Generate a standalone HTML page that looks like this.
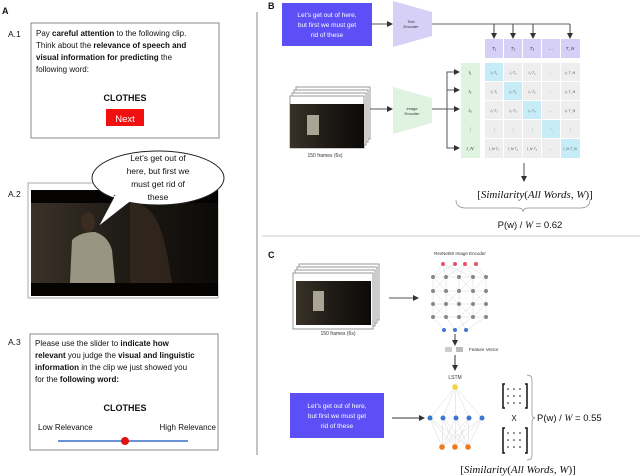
<!DOCTYPE html>
<html><head><meta charset="utf-8"><style>
body{margin:0;width:640px;height:476px;background:#fff;overflow:hidden;font-family:"Liberation Sans",sans-serif;}
svg{position:absolute;left:0;top:0}
.t{font-family:"Liberation Sans",sans-serif}
</style></head><body>
<svg width="640" height="476" viewBox="0 0 640 476" xmlns="http://www.w3.org/2000/svg">
<defs>
<marker id="a" markerWidth="6" markerHeight="6" refX="5" refY="3" orient="auto"><path d="M0,0L6,3L0,6z" fill="#333"/></marker>
<linearGradient id="img" x1="0" x2="1"><stop offset="0" stop-color="#3a3228"/><stop offset="0.5" stop-color="#1e1a15"/><stop offset="1" stop-color="#0c0a08"/></linearGradient>
</defs>
<g class="t" font-size="8" fill="#111">
<text x="2" y="14" font-weight="bold" font-size="9">A</text>
<text x="8" y="37" font-size="8.5">A.1</text>
<rect x="31" y="23" width="188" height="115" fill="#fff" stroke="#888"/>
<text x="36" y="36">Pay <tspan font-weight="bold">careful attention</tspan> to the following clip.</text>
<text x="36" y="48">Think about the <tspan font-weight="bold">relevance of speech and</tspan></text>
<text x="36" y="60"><tspan font-weight="bold">visual information for predicting</tspan> the</text>
<text x="36" y="72">following word:</text>
<text x="125" y="101" font-weight="bold" font-size="9" text-anchor="middle">CLOTHES</text>
<rect x="106" y="109" width="38" height="17" fill="#f01010"/>
<text x="125" y="122" fill="#fff" font-size="9.5" text-anchor="middle">Next</text>
<text x="8" y="197" font-size="8.5">A.2</text>
<rect x="28" y="183" width="190" height="115" fill="#fff" stroke="#aaa"/>
<rect x="31" y="190" width="187" height="106" fill="#050403"/>
<rect x="31" y="203" width="187" height="80" fill="url(#img)"/>
<path d="M70,283 L72,240 Q80,232 95,232 Q108,236 112,250 L115,283z" fill="#9a9482"/>
<ellipse cx="88" cy="222" rx="7" ry="10" fill="#3a2c20"/>
<path d="M130,203 C160,203 165,240 172,283 L130,283z" fill="#3a2c22" opacity="0.7"/>
<ellipse cx="158" cy="178" rx="66" ry="27" fill="#fff" stroke="#222"/>
<path d="M115,195 L98,227 L130,202" fill="#fff" stroke="#222"/>
<rect x="114" y="196" width="18" height="6" fill="#fff"/>
<text x="158" y="161" text-anchor="middle" font-size="8.5">Let’s get out of</text>
<text x="158" y="174" text-anchor="middle" font-size="8.5">here, but first we</text>
<text x="158" y="187" text-anchor="middle" font-size="8.5">must get rid of</text>
<text x="158" y="200" text-anchor="middle" font-size="8.5">these</text>
<text x="8" y="345" font-size="8.5">A.3</text>
<rect x="30" y="334" width="188" height="116" fill="#fff" stroke="#888"/>
<text x="35" y="346">Please use the slider to <tspan font-weight="bold">indicate how</tspan></text>
<text x="35" y="358"><tspan font-weight="bold">relevant</tspan> you judge the <tspan font-weight="bold">visual and linguistic</tspan></text>
<text x="35" y="370"><tspan font-weight="bold">information</tspan> in the clip we just showed you</text>
<text x="35" y="382">for the <tspan font-weight="bold">following word:</tspan></text>
<text x="125" y="411" font-weight="bold" font-size="9" text-anchor="middle">CLOTHES</text>
<text x="38" y="430">Low Relevance</text>
<text x="216" y="430" text-anchor="end">High Relevance</text>
<line x1="58" y1="441" x2="188" y2="441" stroke="#3a6fc4" stroke-width="1.5"/>
<circle cx="125" cy="441" r="4" fill="#e41010"/>
</g>
<line x1="257" y1="12" x2="257" y2="455" stroke="#888"/>
<line x1="262" y1="236" x2="640" y2="236" stroke="#ccc"/>
<g class="t" font-size="6" fill="#333">
<text x="268" y="9" font-weight="bold" font-size="9" fill="#111">B</text>
<rect x="282" y="3" width="90" height="43" fill="#5b4ff5"/>
<text x="327" y="17" text-anchor="middle" fill="#fff" font-size="6.5">Let’s get out of here,</text>
<text x="327" y="27" text-anchor="middle" fill="#fff" font-size="6.5">but first we must get</text>
<text x="327" y="37" text-anchor="middle" fill="#fff" font-size="6.5">rid of these</text>
<line x1="372" y1="24" x2="392" y2="24" stroke="#555" marker-end="url(#a)"/>
<path d="M393,1 L432,12 L432,36 L393,47z" fill="#d6cff6"/>
<text x="411" y="23" text-anchor="middle" font-size="4">Text</text>
<text x="411" y="28" text-anchor="middle" font-size="4">Encoder</text>
<path d="M432,24 L570,24" stroke="#666" fill="none"/>
<g stroke="#444" marker-end="url(#a)">
<line x1="494" y1="24" x2="494" y2="38"/><line x1="513" y1="24" x2="513" y2="38"/><line x1="533" y1="24" x2="533" y2="38"/><line x1="570" y1="24" x2="570" y2="38"/>
</g>
<g fill="#d6cff6">
<rect x="485" y="39" width="18" height="19"/><rect x="504" y="39" width="18" height="19"/><rect x="523" y="39" width="18" height="19"/><rect x="542" y="39" width="18" height="19"/><rect x="561" y="39" width="19" height="19"/>
</g>
<g font-size="4.5" font-style="italic" text-anchor="middle">
<text x="494" y="50">T₁</text><text x="513" y="50">T₂</text><text x="532" y="50">T₃</text><text x="551" y="50">…</text><text x="570" y="50">T_N</text>
</g>
<rect x="461" y="63" width="19" height="95" fill="#dff3e0"/>
<g font-size="4.5" font-style="italic" text-anchor="middle">
<text x="470" y="74">I₁</text><text x="470" y="93">I₂</text><text x="470" y="112">I₃</text><text x="470" y="131">⋮</text><text x="470" y="150">I_N</text>
</g>
<rect x="485" y="63" width="95" height="95" fill="#eeeeee"/>
<g fill="#c6ecf8">
<rect x="485" y="63" width="18" height="18"/><rect x="504" y="82" width="18" height="18"/><rect x="523" y="101" width="18" height="18"/><rect x="542" y="120" width="18" height="18"/><rect x="561" y="139" width="19" height="19"/>
</g>
<g stroke="#fff" stroke-width="1"><line x1="503.5" y1="63" x2="503.5" y2="158"/><line x1="522.5" y1="63" x2="522.5" y2="158"/><line x1="541.5" y1="63" x2="541.5" y2="158"/><line x1="560.5" y1="63" x2="560.5" y2="158"/>
<line x1="485" y1="81.5" x2="580" y2="81.5"/><line x1="485" y1="100.5" x2="580" y2="100.5"/><line x1="485" y1="119.5" x2="580" y2="119.5"/><line x1="485" y1="138.5" x2="580" y2="138.5"/></g>
<g font-size="3.6" font-style="italic" text-anchor="middle" fill="#555">
<text x="494" y="74">I₁·T₁</text><text x="513" y="74">I₁·T₂</text><text x="532" y="74">I₁·T₃</text><text x="551" y="74">…</text><text x="570" y="74">I₁·T_N</text>
<text x="494" y="93">I₂·T₁</text><text x="513" y="93">I₂·T₂</text><text x="532" y="93">I₂·T₃</text><text x="551" y="93">…</text><text x="570" y="93">I₂·T_N</text>
<text x="494" y="112">I₃·T₁</text><text x="513" y="112">I₃·T₂</text><text x="532" y="112">I₃·T₃</text><text x="551" y="112">…</text><text x="570" y="112">I₃·T_N</text>
<text x="494" y="131">⋮</text><text x="513" y="131">⋮</text><text x="532" y="131">⋮</text><text x="551" y="131">⋱</text><text x="570" y="131">⋮</text>
<text x="494" y="150">I_N·T₁</text><text x="513" y="150">I_N·T₂</text><text x="532" y="150">I_N·T₃</text><text x="551" y="150">…</text><text x="570" y="150">I_N·T_N</text>
</g>
<g stroke="#999" fill="#fff"><rect x="296" y="87" width="74" height="52"/><rect x="294" y="90" width="74" height="52"/><rect x="292" y="93" width="74" height="52"/><rect x="290" y="96" width="74" height="52"/></g>
<rect x="290" y="104" width="74" height="44" fill="url(#img)"/>
<rect x="307" y="115" width="12" height="20" fill="#a9a493"/>
<text x="325" y="157" text-anchor="middle" font-size="5">150 frames (6s)</text>
<line x1="370" y1="109" x2="392" y2="109" stroke="#555" marker-end="url(#a)"/>
<path d="M393,87 L432,98 L432,123 L393,134z" fill="#dff3e0"/>
<text x="412" y="110" text-anchor="middle" font-size="4">Image</text>
<text x="412" y="115" text-anchor="middle" font-size="4">Encoder</text>
<line x1="432" y1="109" x2="459" y2="109" stroke="#555" marker-end="url(#a)"/>
<path d="M450,72 L447,72 L447,148 L459,148" fill="none" stroke="#555" marker-end="url(#a)"/>
<g stroke="#555" marker-end="url(#a)"><line x1="447" y1="72" x2="459" y2="72"/><line x1="447" y1="90" x2="459" y2="90"/></g>
<line x1="524" y1="163" x2="524" y2="181" stroke="#555" marker-end="url(#a)"/>
<text x="535" y="198" text-anchor="middle" font-size="11" font-family="Liberation Serif" fill="#111">[<tspan font-style="italic">Similarity</tspan>(<tspan font-style="italic">All Words</tspan>, <tspan font-style="italic">W</tspan>)]</text>
<path d="M456,200 Q456,208 466,208 L518,208 Q523,208 523,212 Q523,208 528,208 L580,208 Q590,208 590,200" fill="none" stroke="#888" stroke-width="0.7"/>
<text x="530" y="228" text-anchor="middle" font-size="9.5" fill="#111">P(w) / <tspan font-style="italic" font-family="Liberation Serif">W</tspan> = 0.62</text>
</g>
<g class="t" font-size="6" fill="#333">
<text x="268" y="258" font-weight="bold" font-size="9" fill="#111">C</text>
<g stroke="#999" fill="#fff"><rect x="299" y="264" width="80" height="56"/><rect x="297" y="267" width="80" height="56"/><rect x="295" y="270" width="80" height="56"/><rect x="293" y="273" width="80" height="56"/></g>
<rect x="296" y="281" width="75" height="44" fill="url(#img)"/>
<rect x="313" y="291" width="11" height="20" fill="#a9a493"/>
<text x="338" y="335" text-anchor="middle" font-size="5">150 frames (6s)</text>
<line x1="389" y1="298" x2="418" y2="298" stroke="#555" marker-end="url(#a)"/>
<text x="460" y="255" text-anchor="middle" font-size="4.5">ResNet50 Image Encoder</text>
<g stroke="#ccc" stroke-width="0.4">
<path d="M443,264 L433,277 M443,264 L446,277 M443,264 L459,277 M443,264 L473,277 M465,264 L446,277 M465,264 L459,277 M465,264 L473,277 M465,264 L486,277 M455,264 L433,277 M476,264 L486,277"/>
<path d="M433,277 L446,291 M446,277 L433,291 M459,277 L473,291 M473,277 L459,291 M486,277 L473,291 M433,291 L446,304 M446,291 L459,304 M459,291 L446,304 M473,291 L486,304 M486,291 L473,304 M433,304 L446,317 M446,304 L433,317 M459,304 L473,317 M473,304 L459,317 M486,304 L473,317 M433,317 L444,330 M446,317 L455,330 M459,317 L466,330 M473,317 L455,330 M486,317 L466,330"/>
<path d="M433,277 V317 M446,277 V317 M459,277 V317 M473,277 V317 M486,277 V317 M433,277 H486 M433,291 H486 M433,304 H486 M433,317 H486"/>
</g>
<g fill="#e8506a"><circle cx="443" cy="264" r="2"/><circle cx="455" cy="264" r="2"/><circle cx="465" cy="264" r="2"/><circle cx="476" cy="264" r="2"/></g>
<g fill="#888">
<circle cx="433" cy="277" r="2"/><circle cx="446" cy="277" r="2"/><circle cx="459" cy="277" r="2"/><circle cx="473" cy="277" r="2"/><circle cx="486" cy="277" r="2"/>
<circle cx="433" cy="291" r="2"/><circle cx="446" cy="291" r="2"/><circle cx="459" cy="291" r="2"/><circle cx="473" cy="291" r="2"/><circle cx="486" cy="291" r="2"/>
<circle cx="433" cy="304" r="2"/><circle cx="446" cy="304" r="2"/><circle cx="459" cy="304" r="2"/><circle cx="473" cy="304" r="2"/><circle cx="486" cy="304" r="2"/>
<circle cx="433" cy="317" r="2"/><circle cx="446" cy="317" r="2"/><circle cx="459" cy="317" r="2"/><circle cx="473" cy="317" r="2"/><circle cx="486" cy="317" r="2"/>
</g>
<g fill="#3a78d0"><circle cx="444" cy="330" r="2"/><circle cx="455" cy="330" r="2"/><circle cx="466" cy="330" r="2"/></g>
<line x1="455" y1="334" x2="455" y2="345" stroke="#333" marker-end="url(#a)"/>
<rect x="445" y="347" width="7" height="5" fill="#ccc"/><rect x="456" y="347" width="7" height="5" fill="#bbb"/>
<text x="469" y="351" font-size="4.5">Feature Vector</text>
<line x1="455" y1="355" x2="455" y2="370" stroke="#333" marker-end="url(#a)"/>
<text x="455" y="379" text-anchor="middle" font-size="5">LSTM</text>
<g stroke="#ccc" stroke-width="0.4">
<path d="M455,387 L430,418 M455,387 L443,418 M455,387 L456,418 M455,387 L469,418 M455,387 L482,418"/>
<path d="M430,418 L442,447 M430,418 L455,447 M430,418 L468,447 M443,418 L442,447 M443,418 L455,447 M443,418 L468,447 M456,418 L442,447 M456,418 L455,447 M456,418 L468,447 M469,418 L442,447 M469,418 L455,447 M469,418 L468,447 M482,418 L442,447 M482,418 L455,447 M482,418 L468,447"/>
</g>
<circle cx="455" cy="387" r="2.8" fill="#f5d040"/>
<g fill="#3a78d0"><circle cx="430" cy="418" r="2.5"/><circle cx="443" cy="418" r="2.5"/><circle cx="456" cy="418" r="2.5"/><circle cx="469" cy="418" r="2.5"/><circle cx="482" cy="418" r="2.5"/></g>
<g fill="#f07a20"><circle cx="442" cy="447" r="2.8"/><circle cx="455" cy="447" r="2.8"/><circle cx="468" cy="447" r="2.8"/></g>
<rect x="290" y="393" width="94" height="45" fill="#5b4ff5"/>
<text x="337" y="408" text-anchor="middle" fill="#fff" font-size="6.5">Let’s get out of here,</text>
<text x="337" y="418" text-anchor="middle" fill="#fff" font-size="6.5">but first we must get</text>
<text x="337" y="428" text-anchor="middle" fill="#fff" font-size="6.5">rid of these</text>
<line x1="392" y1="418" x2="424" y2="418" stroke="#333" marker-end="url(#a)"/>
<g fill="none" stroke="#111" stroke-width="1.5"><path d="M505,384 h-2 v24 h2 M525,384 h2 v24 h-2 M505,428 h-2 v25 h2 M525,428 h2 v25 h-2"/></g>
<g fill="#111"><circle cx="508" cy="389" r="0.8"/><circle cx="514" cy="389" r="0.8"/><circle cx="520" cy="389" r="0.8"/><circle cx="508" cy="396" r="0.8"/><circle cx="514" cy="396" r="0.8"/><circle cx="520" cy="396" r="0.8"/><circle cx="508" cy="403" r="0.8"/><circle cx="514" cy="403" r="0.8"/><circle cx="520" cy="403" r="0.8"/>
<circle cx="508" cy="433" r="0.8"/><circle cx="514" cy="433" r="0.8"/><circle cx="520" cy="433" r="0.8"/><circle cx="508" cy="440" r="0.8"/><circle cx="514" cy="440" r="0.8"/><circle cx="520" cy="440" r="0.8"/><circle cx="508" cy="447" r="0.8"/><circle cx="514" cy="447" r="0.8"/><circle cx="520" cy="447" r="0.8"/></g>
<text x="514" y="421" text-anchor="middle" font-size="8" fill="#111">X</text>
<path d="M527,375 Q532,375 532,380 L532,414 Q532,418 535,418 Q532,418 532,422 L532,456 Q532,460 527,460" fill="none" stroke="#888" stroke-width="0.7"/>
<text x="537" y="421" font-size="9.5" fill="#111">P(w) / <tspan font-style="italic" font-family="Liberation Serif">W</tspan> = 0.55</text>
<text x="518" y="473" text-anchor="middle" font-size="11" font-family="Liberation Serif" fill="#111">[<tspan font-style="italic">Similarity</tspan>(<tspan font-style="italic">All Words</tspan>, <tspan font-style="italic">W</tspan>)]</text>
</g>
</svg>
</body></html>
